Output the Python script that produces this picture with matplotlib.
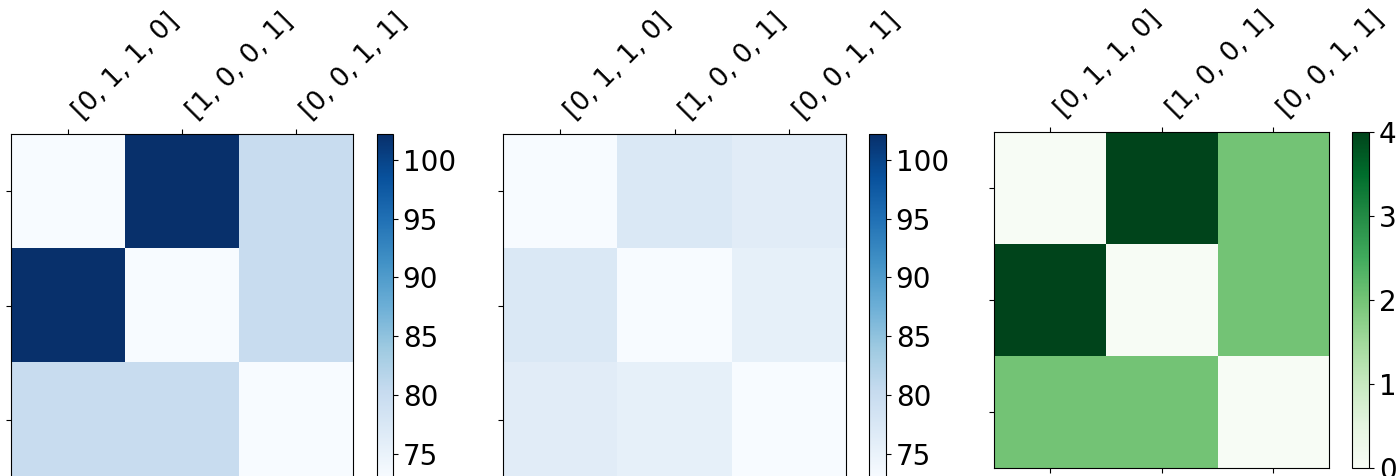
import numpy as np
import matplotlib
matplotlib.use("Agg")
import matplotlib.pyplot as plt

labels = ["[0, 1, 1, 0]", "[1, 0, 0, 1]", "[0, 0, 1, 1]"]

values_a = [[73.0, 102.2, 80.0],
            [102.2, 73.0, 80.0],
            [80.0, 80.0, 73.0]]
values_b = [[73.0, 77.2, 76.3],
            [77.2, 73.0, 75.5],
            [76.3, 75.5, 73.0]]
values_c = [[0, 4, 2],
            [4, 0, 2],
            [2, 2, 0]]

W, H = 1399, 476
fig = plt.figure(figsize=(W / 100, H / 100), dpi=100)

def px(l, t, w, h):
    return [l / W, (H - t - h) / H, w / W, h / H]

panels = [
    (values_a, "Blues", 73.0, 102.2, px(11, 134, 342, 343), px(377, 134, 16, 343), [75, 80, 85, 90, 95, 100]),
    (values_b, "Blues", 73.0, 102.2, px(503, 134, 343, 343), px(869, 134, 17, 343), [75, 80, 85, 90, 95, 100]),
    (values_c, "Greens", 0, 4, px(994, 132, 335, 336), px(1352, 132, 17, 336), [0, 1, 2, 3, 4]),
]

for data, cmap, vmin, vmax, axpos, cbpos, cticks in panels:
    ax = fig.add_axes(axpos)
    im = ax.imshow(np.array(data), cmap=cmap, vmin=vmin, vmax=vmax, aspect="auto")
    ax.set_xticks(range(len(labels)))
    ax.set_xticklabels(labels, rotation=45, ha="left", fontsize=19)
    ax.xaxis.set_ticks_position("both")
    ax.xaxis.set_label_position("top")
    ax.tick_params(axis="x", labeltop=True, labelbottom=False)
    ax.set_yticks(range(len(labels)))
    ax.set_yticklabels([])
    cax = fig.add_axes(cbpos)
    cb = fig.colorbar(im, cax=cax)
    cb.set_ticks(cticks)
    cb.ax.tick_params(labelsize=20)

fig.savefig("out.png", dpi=100)
